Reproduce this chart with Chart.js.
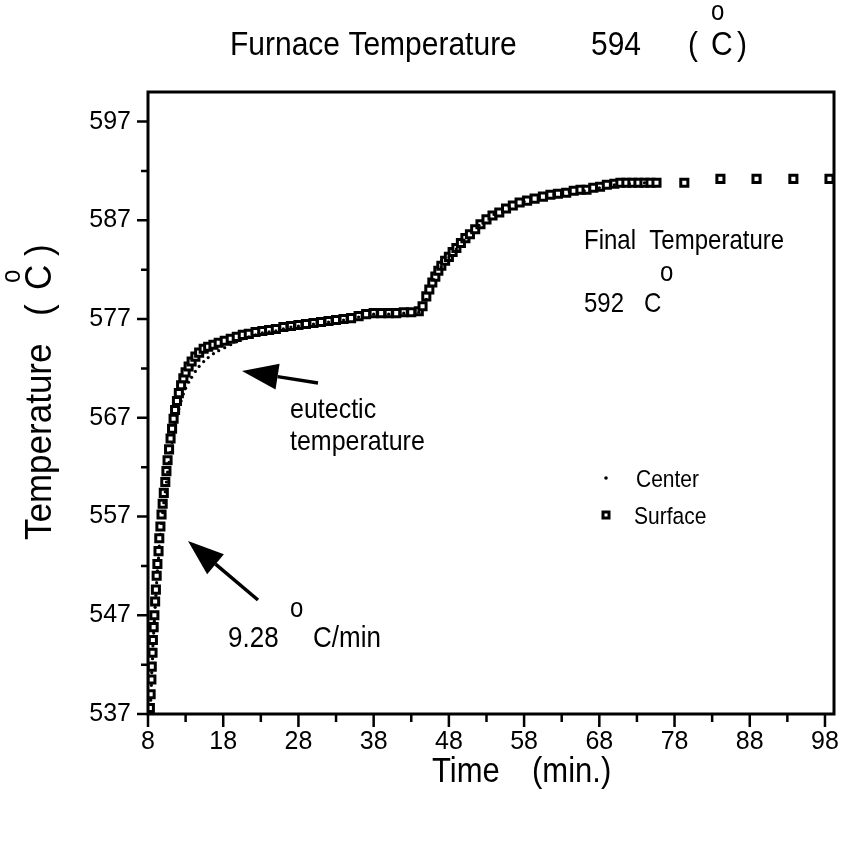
<!DOCTYPE html>
<html>
<head>
<meta charset="utf-8">
<script src="https://cdn.jsdelivr.net/npm/chart.js@4.4.1/dist/chart.umd.min.js"></script>
<style>
html,body{margin:0;padding:0;background:#fff}
canvas{display:block}
</style>
</head>
<body>
<canvas id="chart" width="847" height="841"></canvas>
<script>
/* data */
const surfaceTime=[8.25,8.35,8.45,8.5,8.6,8.65,8.75,8.85,8.95,9.05,9.15,9.25,9.4,9.5,9.65,9.8,9.95,10.1,10.3,10.45,
  10.6,10.8,11.0,11.2,11.4,11.6,11.85,12.1,12.4,12.7,13.0,13.4,13.8,14.3,14.8,15.4,16,16.7,17.4,18.2,
  19,19.8,20.6,21.4,22.3,23.2,24.1,25,26,27,28,29,30,31,32,33,34,35,36,37,
  38,39,40,41,42,43,44,44.5,45,45.4,45.8,46.2,46.6,47,47.5,48,48.5,49,49.6,50.2,
  50.8,51.5,52.2,53,53.8,54.7,55.6,56.5,57.4,58.4,59.4,60.5,61.5,62.5,63.6,64.6,65.5,66.3,67.2,68.1,
  69,70,70.8,71.6,72.4,73.2,74,74.8,75.6,79.3,84.1,88.9,93.8,98.6];
const surfaceTemp=[537.6,539.0,540.5,541.8,543.2,544.5,545.8,547.0,548.4,549.6,551.0,552.2,553.5,554.8,556.0,557.2,558.3,559.4,560.5,561.6,
  562.7,563.8,564.9,565.9,566.9,567.8,568.7,569.5,570.3,571.0,571.6,572.2,572.7,573.2,573.6,574.0,574.2,574.4,574.6,574.8,
  575.0,575.2,575.4,575.5,575.7,575.8,575.9,576.0,576.2,576.3,576.4,576.5,576.6,576.7,576.8,576.9,577.0,577.1,577.3,577.5,
  577.6,577.6,577.6,577.6,577.7,577.7,577.8,578.3,579.3,580.0,580.7,581.3,581.9,582.4,582.9,583.3,583.8,584.2,584.7,585.2,
  585.6,586.1,586.6,587.1,587.5,587.8,588.2,588.5,588.8,589.0,589.2,589.4,589.6,589.7,589.8,590.0,590.1,590.1,590.3,590.4,
  590.6,590.7,590.8,590.8,590.8,590.8,590.8,590.8,590.8,590.8,591.2,591.2,591.2,591.2];
const centerTime=[8.25,8.35,8.45,8.5,8.6,8.65,8.75,8.85,8.95,9.05,9.15,9.25,9.4,9.5,9.65,9.8,9.95,10.1,10.3,10.45,
  10.6,10.8,11.0,11.2,11.4,11.6,11.85,12.1,12.4,12.7,13.0,13.4,13.8,14.3,14.8,15.4,16,16.7,17.4,18.2,
  19,19.8,20.6,21.4,22.3,23.2,24.1,25,26,27,28,30,32,34,36,38,40,42,44,45,
  46,47,48,49,50,52,54,56,58,60,62,64,66,68,70,72,74];
const centerTemp=[537.2,538.4,539.9,541.2,542.6,543.9,545.2,546.4,547.8,549.0,550.3,551.5,552.8,554.0,555.2,556.3,557.4,558.4,559.5,560.5,
  561.5,562.5,563.5,564.5,565.5,566.4,567.2,567.9,568.7,569.4,570.0,570.6,571.1,571.7,572.2,572.7,573.1,573.5,573.8,574.1,
  574.4,574.7,575.0,575.2,575.4,575.6,575.7,575.8,576.0,576.2,576.3,576.5,576.7,576.9,577.2,577.5,577.5,577.6,577.7,579.0,
  581.0,582.3,583.2,584.1,585.0,586.5,587.6,588.4,588.9,589.3,589.6,589.9,590.0,590.3,590.6,590.7,590.8];
const xTicks=[8,18,28,38,48,58,68,78,88,98];
const yTicks=[537,547,557,567,577,587,597];

const FONT='"Liberation Sans", Arial, Helvetica, sans-serif';

function arrow(ctx,x1,y1,x2,y2){
  const a=Math.atan2(y2-y1,x2-x1), L=36, W=13;
  const bx=x2-L*Math.cos(a), by=y2-L*Math.sin(a);
  ctx.beginPath();
  ctx.moveTo(x1,y1); ctx.lineTo(bx,by);
  ctx.lineWidth=3.5; ctx.stroke();
  ctx.beginPath();
  ctx.moveTo(x2,y2);
  ctx.lineTo(bx+W*Math.sin(a),by-W*Math.cos(a));
  ctx.lineTo(bx-W*Math.sin(a),by+W*Math.cos(a));
  ctx.closePath(); ctx.fill();
}

// text with a slight vertical stretch, like the original lettering
function txt(c,s,x,y,size,sy){
  sy=sy||1.12;
  c.save();
  c.translate(x,y); c.scale(1,sy);
  c.font=size+"px "+FONT;
  c.fillText(s,0,0);
  c.restore();
}

const deco={
  id:"deco",
  afterDraw(chart){
    const c=chart.ctx, a=chart.chartArea;
    const xs=chart.scales.x, ys=chart.scales.y;
    c.save();
    c.strokeStyle="#000"; c.fillStyle="#000";
    /* frame */
    c.lineWidth=3;
    c.strokeRect(a.left,a.top,a.right-a.left,a.bottom-a.top);
    /* ticks */
    c.lineWidth=2.5;
    c.beginPath();
    xTicks.forEach(v=>{
      const p=xs.getPixelForValue(v);
      c.moveTo(p,a.bottom); c.lineTo(p,a.bottom+13);
      const m=xs.getPixelForValue(v+5);
      if(v+5<xs.max){c.moveTo(m,a.bottom); c.lineTo(m,a.bottom+8);}
    });
    yTicks.forEach(v=>{
      const p=ys.getPixelForValue(v);
      c.moveTo(a.left,p); c.lineTo(a.left-11,p);
      if(v+5<ys.max){const m=ys.getPixelForValue(v+5); c.moveTo(a.left,m); c.lineTo(a.left-7,m);}
    });
    c.stroke();

    c.textBaseline="alphabetic"; c.textAlign="left";
    /* title */
    txt(c,"Furnace Temperature",230,55,30);
    txt(c,"594",591,55,30);
    txt(c,"(",688,55,30);
    txt(c,"C",711,55,30);
    txt(c,")",737,55,30);
    txt(c,"o",711,20,24);

    /* x title */
    txt(c,"Time",432,782,31);
    txt(c,"(min.)",532,782,31);

    /* y title */
    c.save();
    c.translate(51,540); c.rotate(-Math.PI/2);
    txt(c,"Temperature",0,0,35,1.05);
    txt(c,"(",224,0,35,1.05);
    txt(c,"C",250,0,35,1.05);
    txt(c,")",284,0,35,1.05);
    txt(c,"o",257,-31,24);
    c.restore();

    /* annotations */
    txt(c,"Final  Temperature",584,249,24);
    txt(c,"o",660,281,24);
    txt(c,"592   C",584,312,24);
    txt(c,"eutectic",290,418,25);
    txt(c,"temperature",290,450,25);
    txt(c,"9.28",228,647,26);
    txt(c,"o",290,617,24);
    txt(c,"C/min",313,647,26);

    arrow(c,318,383,242,371);
    arrow(c,258,600,188,541);

    /* legend */
    c.beginPath(); c.arc(606,478,1.8,0,Math.PI*2); c.fill();
    txt(c,"Center",636,487,21);
    c.lineWidth=3;
    c.fillStyle="#fff";
    c.fillRect(603,512,6,6);
    c.strokeRect(603,512,6,6);
    c.fillStyle="#000";
    txt(c,"Surface",634,524,21);
    c.restore();
  }
};

new Chart(document.getElementById("chart"),{
  type:"scatter",
  data:{
    datasets:[
      {
        label:"Center",
        data:centerTime.map((t,i)=>({x:t,y:centerTemp[i]})),
        pointStyle:"circle",
        pointRadius:1.6,
        borderWidth:0,
        backgroundColor:"#000",
        borderColor:"#000"
      },
      {
        label:"Surface",
        data:surfaceTime.map((t,i)=>({x:t,y:surfaceTemp[i]})),
        pointStyle:"rect",
        pointRadius:5,
        borderWidth:3,
        backgroundColor:"#fff",
        borderColor:"#000"
      }
    ]
  },
  options:{
    responsive:false,
    animation:false,
    events:[],
    layout:{padding:{left:0,right:13,top:92,bottom:0}},
    plugins:{legend:{display:false},tooltip:{enabled:false}},
    scales:{
      x:{
        type:"linear",
        min:8,max:99.2,
        grid:{display:false,drawTicks:false},
        border:{display:false},
        afterBuildTicks:s=>{s.ticks=xTicks.map(v=>({value:v}));},
        afterFit:s=>{s.height=127;s.paddingLeft=0;s.paddingRight=0;},
        ticks:{color:"#000",padding:13,font:{family:FONT,size:25},maxRotation:0,autoSkip:false}
      },
      y:{
        type:"linear",
        min:537,max:600,
        grid:{display:false,drawTicks:false},
        border:{display:false},
        afterBuildTicks:s=>{s.ticks=yTicks.map(v=>({value:v}));},
        afterFit:s=>{s.width=148;s.paddingTop=0;s.paddingBottom=0;},
        ticks:{color:"#000",padding:17,font:{family:FONT,size:25},autoSkip:false}
      }
    }
  },
  plugins:[deco]
});
</script>
</body>
</html>
